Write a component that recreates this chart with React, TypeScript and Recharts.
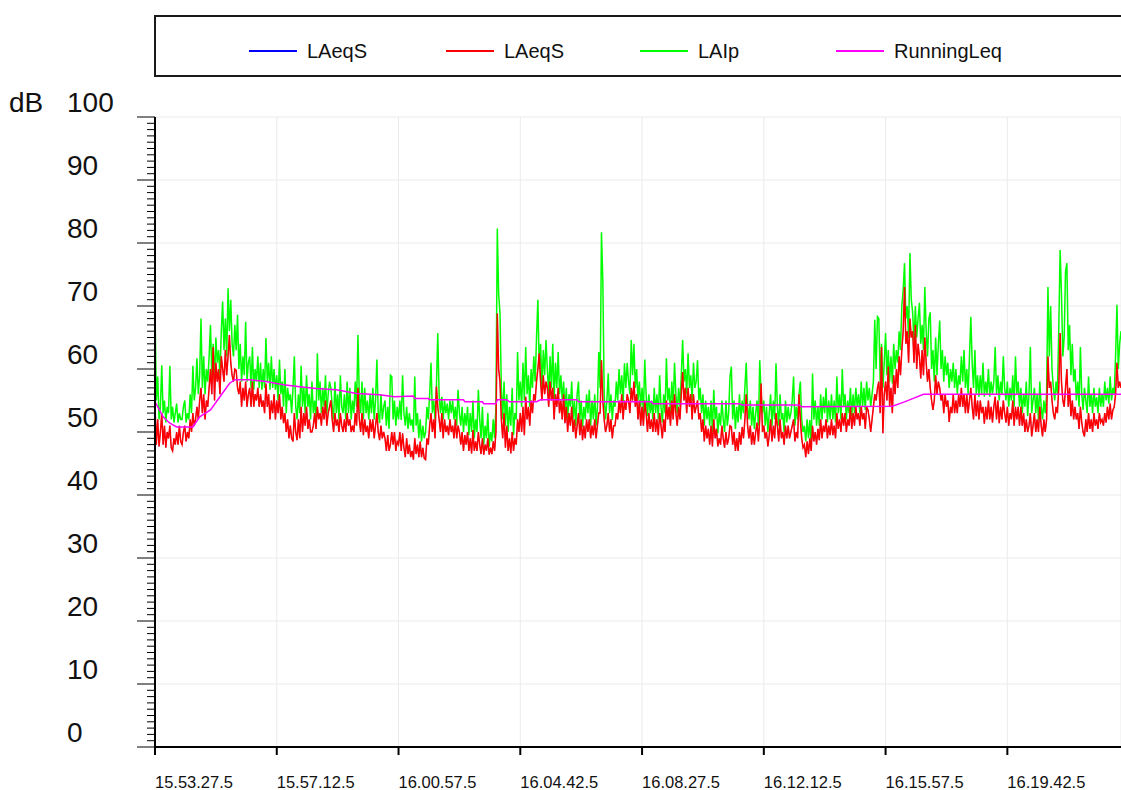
import { LineChart, Line, XAxis, YAxis, CartesianGrid } from 'recharts';

// one sample every 2.5 s, starting 15.53.27.5
const xTicks = [0, 90, 180, 270, 360, 450, 540, 630];
const xTickLabels = ['15.53.27.5', '15.57.12.5', '16.00.57.5', '16.04.42.5', '16.08.27.5', '16.12.12.5', '16.15.57.5', '16.19.42.5'];
const yMajor = [0, 10, 20, 30, 40, 50, 60, 70, 80, 90, 100];
const yTicks = Array.from({ length: 101 }, (_, k) => k);

// LAIp (green)
const laip = [
  69.4, 55, 58.8, 52, 54, 60.6, 53, 55, 51.5, 54,
  53, 60.5, 52, 54, 51.5, 53, 54.5, 51.5, 53, 52,
  52, 54, 55, 51.5, 53, 52, 56, 53, 60.5, 55,
  57, 61.7, 56, 59, 68, 57, 62, 56, 60, 58,
  62, 67, 59, 64, 58, 65, 61, 63, 59, 66,
  70.7, 63, 68, 62, 72.8, 66, 71, 64, 62, 67,
  63, 68.6, 60, 64, 58, 62, 59, 67.5, 58, 61,
  62, 57, 63.5, 56.7, 60, 58, 62, 57, 61, 56.7,
  60, 57, 64.9, 58, 61, 56.7, 62, 57, 60, 56.7,
  59, 55, 61.5, 56, 58, 54, 60, 53, 57, 55,
  56, 53, 57, 62, 54, 52, 56, 53, 60.5, 54,
  57, 53, 59, 54, 56, 52, 58, 53, 55, 52,
  62.5, 55, 58, 53, 57, 54, 59, 53, 56, 58,
  57, 54, 52, 58, 53, 56, 52, 59, 54, 53,
  56, 52, 58, 53, 57, 52, 55, 53, 58, 54,
  65.4, 56, 53, 58, 52, 57, 53, 55, 52, 56,
  53, 57, 52, 55, 61.5, 53, 51.4, 56, 52, 54,
  55, 51, 54, 50.5, 59, 58.8, 52, 55, 51, 54,
  52, 55, 51.9, 59, 53, 51, 54, 50.5, 53, 51,
  52, 50, 58.8, 51, 53, 49, 52, 48.5, 51, 49,
  50, 54, 52, 56, 61, 53, 55, 52, 57, 65.7,
  56, 53, 55.6, 52, 55, 53, 54.5, 52, 55, 53,
  55, 52, 54, 51, 56.7, 53, 51, 54, 50, 53,
  51, 54, 49.5, 53, 50, 55, 49, 52, 50, 56.7,
  52, 49, 54, 48, 51, 49, 53, 47.7, 50, 48.5,
  52, 49, 54, 82.3, 72, 68.8, 57, 52, 58, 51,
  56, 50, 54, 51, 57, 49.5, 53, 52, 62.7, 55,
  58, 54, 61, 55, 63.5, 56, 59, 54, 60, 57,
  62, 58, 65, 71, 60, 64, 57, 63, 59, 64.6,
  60, 56, 62, 57, 64, 55, 61, 57, 62.7, 56,
  59, 55, 58, 53, 57, 52, 56, 54, 58, 52,
  55, 51, 56, 58, 52, 55, 50.8, 54, 52, 56,
  53, 56.7, 51, 55, 52, 56, 51, 54, 62.7, 57,
  81.7, 74, 56, 52, 55, 59.3, 53, 56, 51.9, 55,
  54, 58, 55, 60, 56, 59, 54.5, 60.9, 57, 61,
  58, 56, 64.6, 59, 64, 57, 60, 55, 58, 54,
  57, 53, 61.5, 56, 52.5, 56, 53, 55, 52, 57,
  53, 56, 52, 59, 54, 51.5, 56, 53, 61.7, 55,
  57, 53, 58, 54, 61, 56, 53, 57, 54, 59,
  64.6, 58, 60, 56, 62.5, 57, 59, 55, 61, 57,
  58, 61.4, 55, 57, 53, 56, 51, 55, 52, 54,
  51, 55, 50, 56.7, 52, 54, 49.8, 53, 51, 55,
  52, 50, 55, 51, 53, 58.8, 60.4, 52, 55, 50.5,
  54, 51.5, 56, 52, 55, 53, 57, 61, 54, 52,
  55, 51, 54, 50.5, 53, 55, 51, 61.4, 56, 53,
  55, 51, 54, 50, 53, 56, 51, 55, 52, 60.9,
  54, 51, 56, 52, 53, 50, 55, 51.5, 54, 52,
  53, 55, 58.8, 51, 54, 52, 56, 58, 52, 50,
  51, 48.5, 52, 49, 51.9, 48, 59.3, 52, 55, 51,
  54, 51, 56, 52, 55.6, 53, 57, 51.5, 55, 52,
  56, 52, 55, 51.5, 58.8, 53, 56, 52, 60, 54,
  56, 52, 55, 53, 57, 52.5, 56, 53, 57, 54,
  56, 53, 58, 54, 57, 53.5, 58, 55, 57, 54,
  56, 58, 67.8, 60, 68.3, 68, 58, 64, 57, 61,
  65.7, 59, 63, 58, 62, 57.7, 64, 60, 63, 61,
  66, 63, 70, 72.5, 76.8, 68, 70, 65, 78.4, 71,
  69, 64, 70, 65, 68, 70.5, 64, 67, 63, 73,
  66, 62, 68, 69, 60, 63, 58, 65, 59, 64,
  67.7, 60, 63, 58, 62, 59, 61, 57, 60, 58,
  61, 57, 60, 56, 59, 57.5, 62, 58, 63, 57,
  60, 56, 62, 68.3, 61, 57, 63, 56, 59, 55.6,
  59, 56, 61, 55.6, 58, 56, 60, 55.6, 58, 56,
  58, 63.5, 56, 59, 55, 58, 56, 62, 57, 55,
  58, 54, 57, 55, 59, 54, 62, 56, 58, 54,
  57, 53, 56, 54, 58, 52.5, 56, 63.5, 53, 55,
  57, 53, 56, 52, 58, 54, 52, 55, 53, 56,
  73, 62, 70, 60, 57, 55, 58, 56, 66.2, 78.9,
  72, 62, 65, 75.5, 76.8, 63, 67, 59, 64, 58,
  60, 55, 58, 54, 63.5, 56, 53.5, 57, 55, 53,
  58.8, 54, 56, 53, 57, 54, 55.5, 53, 57, 54,
  56, 54, 58, 55, 57, 54.5, 58.8, 55, 57, 56,
  62, 70.2, 60, 64, 66,
];

// LAeqS (red)
const laeqS = [
  54, 48, 52, 47.7, 50, 53, 48, 51, 47.5, 50,
  49, 51, 47.5, 47, 49, 48, 50, 48, 51, 48.5,
  48, 50, 51, 48.5, 50, 49, 52, 50, 53, 51,
  52, 54, 52, 55, 57, 53, 56, 52, 55, 54,
  57, 60, 56, 63.5, 55, 61, 58, 60, 56, 62,
  60, 58, 63, 59, 62, 65.4, 61, 59, 58, 60,
  59.8, 57, 56, 58, 54, 57, 55, 58, 54, 56,
  57, 54, 58, 54, 56, 55, 57, 54, 56, 54,
  55, 53, 57.7, 54, 56, 52, 55, 53, 56, 52,
  55, 53, 56, 52, 54, 51.4, 53, 50, 52, 49,
  51, 49, 48.5, 53, 50, 48.7, 52, 49, 54, 50,
  53, 51, 54, 50.5, 52, 50, 50, 51, 53, 50.5,
  54, 52, 53, 51, 54, 52, 55, 51, 53, 54,
  55, 52, 50, 53, 51, 52, 50, 53, 51, 50,
  52, 50, 53, 51, 52, 50, 51, 50, 53, 51,
  57, 52, 50, 53, 49.5, 52, 50, 51, 49, 52,
  50, 52, 49, 51, 53, 50, 48.7, 51, 49, 50,
  49, 47, 49.5, 47, 48, 50, 48, 50, 47, 48.5,
  48, 50, 47, 49.8, 47.5, 46, 49, 46.5, 48, 46,
  47, 45.6, 49, 46.5, 48, 46, 48.5, 46, 47.5, 45.8,
  45.6, 49, 48, 51, 53, 50, 52, 49, 57.2, 54,
  52, 50, 53, 49, 52, 50, 51, 49.5, 52, 50,
  51, 49, 52, 49, 51, 50, 48, 50, 47, 49.5,
  48, 50, 47, 49, 46.6, 50.3, 47, 48.5, 47, 50,
  48, 46.5, 49, 46.4, 48, 47, 49, 46.4, 47.5, 46.5,
  48.5, 47, 50, 68.8, 60, 58, 52, 49, 53, 47.5,
  51, 47, 49, 46.6, 50, 47, 49, 48, 52, 50,
  53, 50, 54, 49.5, 55.6, 52, 54, 51, 55, 53,
  56, 55, 58, 60, 62.5, 58, 55, 59, 56, 58,
  57, 54, 58, 55, 57, 52, 56, 54, 57, 53,
  55, 52, 56, 51.4, 54, 50, 53, 51, 54, 50,
  52, 49, 51, 53, 49.5, 52, 48.7, 51, 49, 52,
  50, 52, 49, 51, 49.5, 52, 49, 51, 53, 53,
  61.4, 55, 52, 50, 51, 53, 50, 52, 49, 51,
  51, 53, 52, 55, 53, 56, 52, 55, 53.5, 56,
  55, 53, 57, 55, 58, 54, 56, 52, 55, 51,
  54, 51, 55, 53, 50, 53, 50.5, 52, 50, 53,
  50, 52, 49.5, 53, 51, 49, 52, 50, 55, 52,
  54, 51, 55, 52, 56, 53, 51, 54, 52, 56,
  59.5, 55, 57, 53, 57, 54, 56, 52, 56, 53,
  54, 55, 52, 53, 50, 52, 48.5, 51, 49, 50.5,
  48, 51, 47.7, 52, 49, 50.5, 47.7, 49, 48, 51,
  49, 47.5, 50, 48, 49, 51, 50.8, 48, 50, 47,
  49, 47, 50, 48, 50.8, 49, 52, 56, 51, 49,
  51, 48, 50, 48, 50, 51.5, 48.5, 52, 57.7, 50,
  51, 49, 50, 47.7, 49.5, 52, 48.5, 51, 49, 53,
  51, 48.5, 52, 49, 50, 48, 51, 49, 51, 49,
  50, 51, 52, 48.5, 50, 49, 56, 52, 49, 47.5,
  48, 46, 48.5, 46.5, 49, 47, 51, 48.5, 50, 48,
  50.5, 48.7, 52, 49, 51, 50, 52, 49, 51, 49.5,
  52, 49.5, 51, 49, 53, 50.5, 52, 50, 53, 51,
  53, 50, 52, 51, 54, 50.5, 53, 51, 54, 52,
  53, 51, 54, 52, 53, 50.5, 54, 53.5, 52, 50,
  52, 54, 56, 55, 57, 58, 53, 63.5, 49.8, 56,
  58, 55, 60.4, 54, 57, 53, 59, 56, 60, 57,
  62, 59, 63, 66, 73, 64, 66, 61, 68, 65,
  66, 61, 67, 60, 64, 62, 58.5, 63, 59, 65,
  61, 58, 60, 57, 55, 53.5, 55, 59, 56, 58,
  57, 55, 56, 53, 56, 54, 55, 51.6, 54, 53,
  56, 53, 55, 53, 56, 54, 57, 54, 56, 53,
  56, 53, 55, 57, 54, 52, 56, 52.5, 55, 52,
  55, 53, 54, 51.3, 54, 52, 55, 52, 54, 51.5,
  54, 55.6, 52, 55, 51.4, 54, 52, 55, 53, 51.5,
  54, 51, 53, 52, 55, 51, 54, 52, 54, 51,
  54, 51, 53, 50, 52, 50, 51, 53, 49.3, 51,
  53, 50, 52, 50, 54, 51, 49.3, 52, 50, 52,
  62, 57, 58, 55, 53, 52, 54, 53, 57, 65.7,
  58, 55, 54, 57, 60, 54, 57, 52.5, 55, 52,
  54, 52, 53, 50.5, 54, 51.5, 50, 49.3, 52, 50,
  53, 50.5, 52, 50, 53, 51, 52, 50.5, 53, 51.5,
  52, 51, 53, 51.5, 54, 52, 54.5, 52, 53.5, 54,
  56, 61, 57, 58, 57,
];

// RunningLeq (magenta): sample index and value
const runningIdx = [0, 6, 11, 16, 28, 33, 41, 48, 55, 59, 70, 82, 95, 107, 119, 134, 149, 166, 177, 191, 192, 202, 203, 228, 229, 242, 243, 252, 253, 260, 262, 282, 285, 312, 313, 367, 368, 432, 434, 476, 478, 545, 553, 560, 568, 714];
const runningLeq = [54.8, 52.4, 51.4, 50.8, 50.8, 52.4, 53.5, 55.6, 57.7, 58.3, 58.3, 58, 57.5, 57.2, 56.9, 56.7, 56.1, 55.9, 55.6, 55.7, 55.3, 55.3, 55.1, 55.1, 54.8, 54.8, 54.5, 54.5, 55.1, 55.1, 54.8, 54.8, 55.1, 55.1, 54.8, 54.8, 54.5, 54.5, 54.3, 54.3, 54.0, 54.1, 54.7, 55.3, 56, 56];

const data = laip.map((v, i) => ({ i, laip: v, laeqS: laeqS[i] }));
const runningData = runningIdx.map((i, k) => ({ i, leq: runningLeq[k] }));

const series = [
  { name: 'LAeqS', color: '#0000ff' },
  { name: 'LAeqS', color: '#ff0000' },
  { name: 'LAIp', color: '#00ff00' },
  { name: 'RunningLeq', color: '#ff00ff' },
];

const FONT = '"Liberation Sans", Arial, sans-serif';

function YTick({ x, y, payload }: any) {
  const v = payload.value;
  const major = v % 10 === 0;
  return (
    <g>
      <line x1={x - (major ? 18 : 8)} x2={x} y1={y} y2={y} stroke="#000" strokeWidth={1} />
      {major && (
        <text x={67} y={y - 15} dominantBaseline="central" fontSize={28} fill="#111" fontFamily={FONT}>
          {v}
        </text>
      )}
      {v === 100 && (
        <text x={9} y={y - 15} dominantBaseline="central" fontSize={28} fill="#111" fontFamily={FONT}>
          dB
        </text>
      )}
    </g>
  );
}

function XTick({ x, y, payload }: any) {
  const label = xTickLabels[xTicks.indexOf(payload.value)];
  return (
    <g>
      <line x1={x} x2={x} y1={y} y2={y + 8} stroke="#000" strokeWidth={2} />
      <text x={x} y={y + 35} dominantBaseline="central" fontSize={16.5} fill="#111" fontFamily={FONT}>
        {label}
      </text>
    </g>
  );
}

function LegendBox() {
  const lefts = [93, 290, 484, 680];
  return (
    <div
      style={{
        position: 'absolute',
        left: 154,
        top: 15,
        width: 1000,
        height: 58,
        border: '2px solid #1a1a1a',
        background: '#fff',
        fontFamily: FONT,
      }}
    >
      {series.map((s, k) => (
        <div key={k} style={{ position: 'absolute', left: lefts[k], top: 22, display: 'flex', alignItems: 'center', height: 24 }}>
          <div style={{ width: 48, height: 2, background: s.color }} />
          <span style={{ marginLeft: 10, fontSize: 20, color: '#111' }}>{s.name}</span>
        </div>
      ))}
    </div>
  );
}

export default function App() {
  return (
    <div style={{ position: 'fixed', left: 0, top: 0, width: 1121, height: 790, overflow: 'hidden', background: '#fff' }}>
      <LineChart width={1121} height={790} data={data} margin={{ top: 117, right: 0, bottom: 0, left: 0 }}>
        <CartesianGrid stroke="#ebebeb" horizontalValues={yMajor} />
        <XAxis
          dataKey="i"
          type="number"
          domain={[0, 714]}
          ticks={xTicks}
          interval={0}
          height={43}
          tickSize={0}
          tickMargin={0}
          tickLine={false}
          axisLine={{ stroke: '#000', strokeWidth: 2 }}
          tick={<XTick />}
          allowDataOverflow
        />
        <YAxis
          type="number"
          domain={[0, 100]}
          ticks={yTicks}
          interval={0}
          width={155}
          tickSize={0}
          tickMargin={0}
          tickLine={false}
          axisLine={{ stroke: '#000', strokeWidth: 2 }}
          tick={<YTick />}
        />
        {/* blue LAeqS sits under the red one and is hidden by it, as in the original */}
        <Line dataKey="laeqS" stroke="#0000ff" strokeWidth={0.4} dot={false} isAnimationActive={false} type="linear" />
        <Line dataKey="laip" stroke="#00ff00" strokeWidth={1.5} dot={false} isAnimationActive={false} type="linear" />
        <Line dataKey="laeqS" stroke="#ff0000" strokeWidth={1.5} dot={false} isAnimationActive={false} type="linear" />
        <Line data={runningData} dataKey="leq" stroke="#ff00ff" strokeWidth={1.5} dot={false} isAnimationActive={false} type="linear" />
      </LineChart>
      <LegendBox />
    </div>
  );
}
